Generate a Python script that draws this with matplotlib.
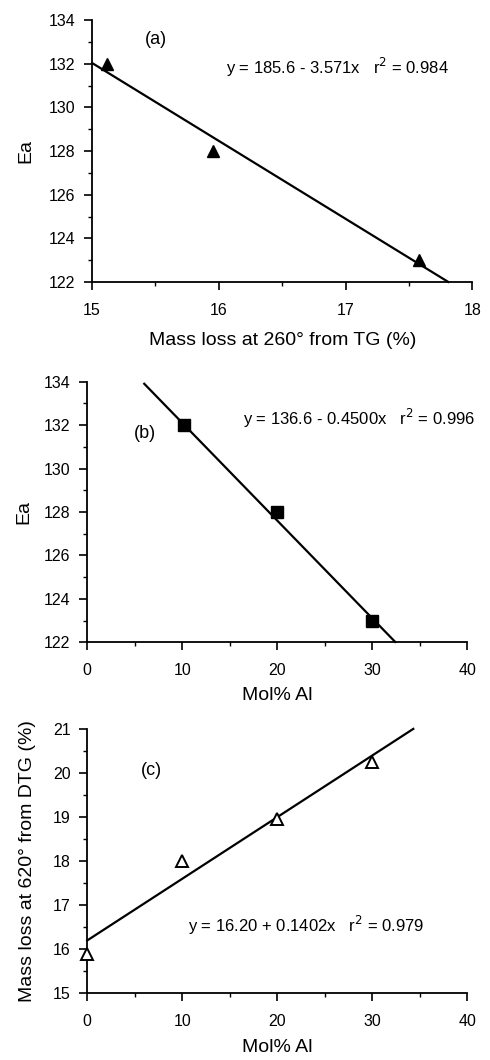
import numpy as np
import matplotlib.pyplot as plt
from matplotlib.ticker import MultipleLocator

plt.rcParams['font.family'] = ['Liberation Sans', 'DejaVu Sans']

# --- data ---
# (a) Ea vs mass loss at 260 deg (TG)
mass_loss_tg = [15.12, 15.95, 17.58]
ea_a = [132.0, 128.0, 123.0]
fit_a = (185.6, -3.571)          # intercept, slope
fit_a_x = [15.0, 17.81]

# (b) Ea vs Mol% Al
mol_al_b = [10.2, 20.0, 30.0]
ea_b = [132.0, 128.0, 123.0]
fit_b = (136.6, -0.4500)
fit_b_x = [6.0, 32.4]

# (c) mass loss at 620 deg (DTG) vs Mol% Al
mol_al_c = [0.0, 10.0, 20.0, 30.0]
mass_loss_dtg = [15.9, 18.0, 18.95, 20.25]
fit_c = (16.20, 0.1402)
fit_c_x = [0.0, 34.3]

eq_a = 'y = 185.6 - 3.571x   r$^2$ = 0.984'
eq_b = 'y = 136.6 - 0.4500x   r$^2$ = 0.996'
eq_c = 'y = 16.20 + 0.1402x   r$^2$ = 0.979'


def style_axes(ax):
    for s in ['top', 'right']:
        ax.spines[s].set_visible(False)
    for s in ['left', 'bottom']:
        ax.spines[s].set_linewidth(1.3)
    ax.tick_params(which='major', direction='out', length=6, width=1.2,
                   labelsize=11.5, pad=6)
    ax.tick_params(axis='x', which='major', pad=9)
    ax.tick_params(which='minor', direction='out', length=3, width=1.0)


def fit_line(ax, fit, xs):
    xs = np.array(xs)
    ax.plot(xs, fit[0] + fit[1] * xs, color='black', lw=1.6, clip_on=False)


fig = plt.figure(figsize=(4.9, 10.6), dpi=100)

# --- panel (a) ---
ax1 = fig.add_axes([0.188, 0.734, 0.776, 0.247])
fit_line(ax1, fit_a, fit_a_x)
ax1.plot(mass_loss_tg, ea_a, '^', color='black', ms=8, clip_on=False)
ax1.set_xlim(15, 18)
ax1.set_ylim(122, 134)
ax1.xaxis.set_major_locator(MultipleLocator(1))
ax1.xaxis.set_minor_locator(MultipleLocator(0.5))
ax1.yaxis.set_major_locator(MultipleLocator(2))
ax1.yaxis.set_minor_locator(MultipleLocator(1))
ax1.set_xlabel('Mass loss at 260° from TG (%)', fontsize=14, labelpad=10)
ax1.set_ylabel('Ea', fontsize=14, labelpad=10)
ax1.text(15.5, 133.1, '(a)', fontsize=13, ha='center', va='center')
ax1.text(16.06, 131.85, eq_a, fontsize=12, ha='left', va='center')
style_axes(ax1)

# --- panel (b) ---
ax2 = fig.add_axes([0.178, 0.394, 0.776, 0.246])
fit_line(ax2, fit_b, fit_b_x)
ax2.plot(mol_al_b, ea_b, 's', color='black', ms=8.5, clip_on=False)
ax2.set_xlim(0, 40)
ax2.set_ylim(122, 134)
ax2.xaxis.set_major_locator(MultipleLocator(10))
ax2.xaxis.set_minor_locator(MultipleLocator(5))
ax2.yaxis.set_major_locator(MultipleLocator(2))
ax2.yaxis.set_minor_locator(MultipleLocator(1))
ax2.set_xlabel('Mol% Al', fontsize=14, labelpad=6)
ax2.set_ylabel('Ea', fontsize=14, labelpad=8)
ax2.text(6.1, 131.6, '(b)', fontsize=13, ha='center', va='center')
ax2.text(16.4, 132.3, eq_b, fontsize=12, ha='left', va='center')
style_axes(ax2)

# --- panel (c) ---
ax3 = fig.add_axes([0.178, 0.063, 0.776, 0.249])
fit_line(ax3, fit_c, fit_c_x)
ax3.plot(mol_al_c, mass_loss_dtg, '^', color='black', mfc='white', mew=1.4,
         ms=8, clip_on=False, zorder=3)
ax3.set_xlim(0, 40)
ax3.set_ylim(15, 21)
ax3.xaxis.set_major_locator(MultipleLocator(10))
ax3.xaxis.set_minor_locator(MultipleLocator(5))
ax3.yaxis.set_major_locator(MultipleLocator(1))
ax3.yaxis.set_minor_locator(MultipleLocator(0.5))
ax3.set_xlabel('Mol% Al', fontsize=14, labelpad=7)
ax3.set_ylabel('Mass loss at 620° from DTG (%)', fontsize=14, labelpad=12)
ax3.text(6.8, 20.07, '(c)', fontsize=13, ha='center', va='center')
ax3.text(10.6, 16.55, eq_c, fontsize=12, ha='left', va='center')
style_axes(ax3)

fig.savefig('out.png', dpi=100)
